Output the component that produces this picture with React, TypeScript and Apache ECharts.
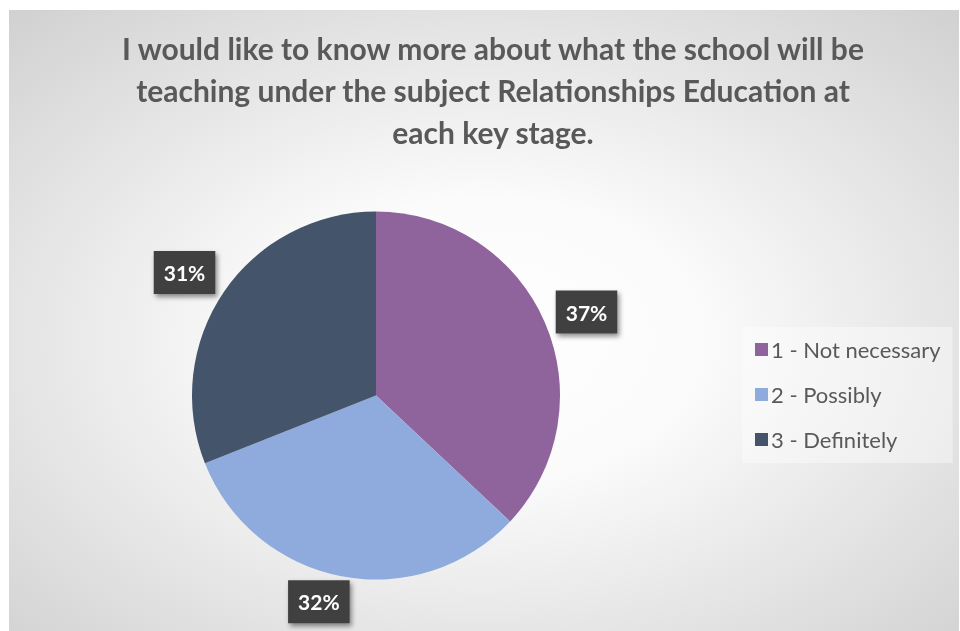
import React, { useEffect, useRef } from "react";
import * as echarts from "echarts";

const titleText =
  "I would like to know more about what the school will be\nteaching under the subject Relationships Education at\neach key stage.";
const categories = ["1 - Not necessary", "2 - Possibly", "3 - Definitely"];
const values = [37, 32, 31];
const colors = ["#8F639C", "#8FAADC", "#44546A"];

export default function App() {
  const ref = useRef<HTMLDivElement>(null);
  useEffect(() => {
    if (!ref.current) return;
    const chart = echarts.init(ref.current, null, { renderer: "svg" });
    const font = "Lato, 'Open Sans', sans-serif";
    chart.setOption({
      animation: false,
      backgroundColor: {
        type: "radial",
        x: 0.5,
        y: 0.53,
        r: 0.9,
        colorStops: [
          { offset: 0, color: "#ffffff" },
          { offset: 0.25, color: "#fbfbfb" },
          { offset: 1, color: "#c2c2c2" },
        ],
      },
      title: {
        text: titleText,
        left: 479,
        textAlign: "center",
        top: 12,
        textStyle: {
          fontFamily: font,
          fontSize: 30,
          fontWeight: "bold",
          color: "#595959",
          lineHeight: 42,
        },
      },
      legend: {
        orient: "vertical",
        left: 733,
        top: 317,
        padding: [10, 12, 11, 13],
        backgroundColor: "rgba(255,255,255,0.4)",
        itemWidth: 13,
        itemHeight: 13,
        itemGap: 20,
        icon: "rect",
        data: categories,
        textStyle: { fontFamily: font, fontSize: 22, lineHeight: 25, color: "#595959", padding: [0, 0, 0, -2] },
      },
      series: [
        {
          type: "pie",
          center: [367, 385.5],
          radius: 184,
          startAngle: 90,
          clockwise: true,
          avoidLabelOverlap: false,
          data: categories.map((n, i) => ({ name: n, value: values[i], itemStyle: { color: colors[i] } })),
          itemStyle: { borderWidth: 0 },
          label: {
            show: true,
            position: "outside",
            formatter: (p: any) => Math.round(p.percent) + "%",
            color: "#ffffff",
            fontFamily: font,
            fontWeight: "bold",
            fontSize: 21,
            backgroundColor: "#404040",
            padding: [11, 10, 11, 10],
            shadowColor: "rgba(0,0,0,0.45)",
            shadowBlur: 5,
            shadowOffsetX: 2,
            shadowOffsetY: 3,
            distanceToLabelLine: -13,
          },
          labelLine: { show: false, length: 26, length2: 0 },
          labelLayout: (p: any) => (p.dataIndex === 2 ? { dy: -5 } : {}),
          emphasis: { disabled: true },
        },
      ],
    });
    return () => chart.dispose();
  }, []);
  return <div ref={ref} style={{ position: "fixed", left: 9, top: 10, width: 950, height: 621 }} />;
}
